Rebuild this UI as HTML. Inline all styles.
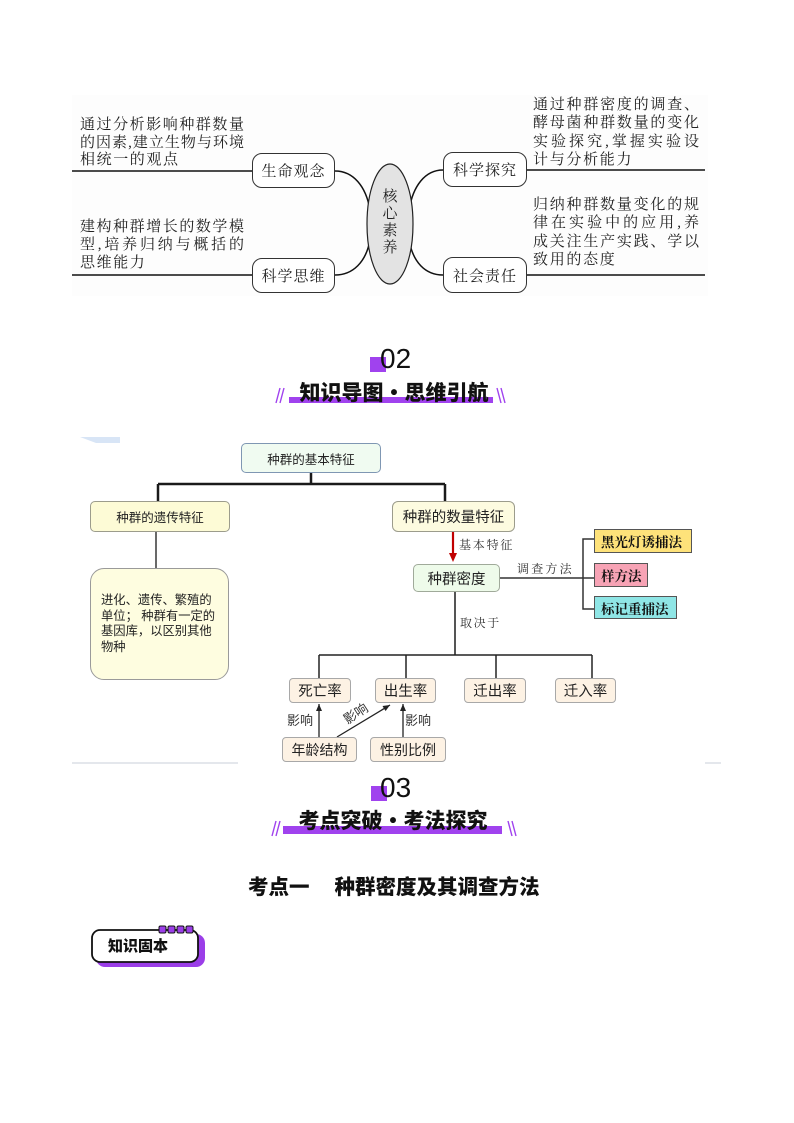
<!DOCTYPE html>
<html><head><meta charset="utf-8">
<style>
html,body{margin:0;padding:0;background:#fff;}
#pg{position:relative;width:794px;height:1123px;overflow:hidden;background:#fff;}
svg{position:absolute;left:0;top:0;}
.t{position:absolute;font-family:"Liberation Serif","Noto Serif CJK SC",serif;font-size:15px;line-height:18px;height:18px;white-space:nowrap;color:#222;}
.j{text-align:justify;text-align-last:justify;}
.bx{position:absolute;box-sizing:border-box;display:flex;align-items:center;justify-content:center;font-family:"Liberation Sans","Noto Sans CJK SC",sans-serif;color:#222;white-space:nowrap;}
.tb{background:#fff;border:1.3px solid #333;border-radius:10px;font-family:"Liberation Serif","Noto Serif CJK SC",serif;font-size:15px;letter-spacing:1px;}
.lb{position:absolute;font-family:"Liberation Serif","Noto Serif CJK SC",serif;font-size:12px;line-height:14px;color:#333;white-space:nowrap;}
.yx{position:absolute;font-family:"Liberation Sans","Noto Sans CJK SC",sans-serif;font-size:13px;line-height:14px;color:#333;white-space:nowrap;}
.rw{background:#fdf2e4;border:1px solid #a8a8a8;border-radius:4px;font-size:14.5px;}
.mt{justify-content:flex-start;padding-left:6px;font-family:"Liberation Serif","Noto Serif CJK SC",serif;font-weight:700;font-size:13.5px;border:1px solid #555;color:#111;}
.hd{position:absolute;font-family:"Noto Sans CJK SC","Liberation Sans",sans-serif;font-weight:900;font-size:21px;line-height:24px;color:#111;white-space:nowrap;}
.num{position:absolute;font-family:"Liberation Sans",sans-serif;font-size:28px;line-height:28px;color:#111;}
</style></head>
<body><div id="pg">
<svg width="794" height="1123" viewBox="0 0 794 1123">
<defs>
<marker id="ah" markerWidth="8" markerHeight="8" refX="7" refY="4" orient="auto" markerUnits="userSpaceOnUse">
<path d="M0,1 L7,4 L0,7 Z" fill="#222"/>
</marker>
</defs>
<!-- top figure background -->
<rect x="72" y="95" width="636" height="201" fill="#fdfdfd"/>
<!-- top lines -->
<g stroke="#111" stroke-width="1.5" fill="none">
<line x1="72" y1="171" x2="252" y2="171"/>
<line x1="72" y1="275" x2="252" y2="275"/>
<line x1="527" y1="170" x2="705" y2="170"/>
<line x1="527" y1="275" x2="705" y2="275"/>
<path d="M335,171 C353,171 366,186 370,210"/>
<path d="M335,275 C353,275 366,262 370,240"/>
<path d="M443,170 C425,170 413,186 409,210"/>
<path d="M443,275 C425,275 413,262 409,240"/>
</g>
<ellipse cx="390" cy="224" rx="23" ry="60" fill="#e3e3e3" stroke="#222" stroke-width="1.2"/>

<!-- 02 header -->
<rect x="370" y="357" width="16" height="15" fill="#a042ee"/>
<rect x="289" y="397" width="204" height="6" fill="#a042ee"/>
<g stroke="#a042ee" stroke-width="1.4">
<line x1="276" y1="403" x2="280" y2="388"/><line x1="280" y1="403" x2="284" y2="388"/>
<line x1="497" y1="388" x2="501" y2="403"/><line x1="501" y1="388" x2="505" y2="403"/>
</g>

<!-- mindmap -->
<polygon points="80,437 120,437 120,443 96,443" fill="#d8e5f6"/>
<g fill="none" stroke="#1a1a1a" stroke-width="2.5">
<path d="M311,473 V484"/>
<path d="M158,484 H445"/>
<path d="M158,484 V501"/>
<path d="M445,484 V501"/>
</g>
<path d="M156,532 V568" stroke="#444" stroke-width="1.6"/>
<line x1="453" y1="532" x2="453" y2="554" stroke="#c00000" stroke-width="2.2"/>
<polygon points="449,553 457,553 453,562" fill="#c00000"/>
<g fill="none" stroke="#333" stroke-width="1.5">
<path d="M500,578 H594"/>
<path d="M594,539 H583 V609 H594"/>
</g>
<path d="M455,592 V655" stroke="#555" stroke-width="2"/>
<g fill="none" stroke="#222" stroke-width="1.5">
<path d="M319,655 H592"/>
<path d="M319,655 V678"/>
<path d="M406,655 V678"/>
<path d="M496,655 V678"/>
<path d="M592,655 V678"/>
</g>
<g stroke="#222" stroke-width="1.3" fill="none">
<line x1="319" y1="737" x2="319" y2="704" marker-end="url(#ah)"/>
<line x1="337" y1="737" x2="390" y2="705" marker-end="url(#ah)"/>
<line x1="403" y1="737" x2="403" y2="704" marker-end="url(#ah)"/>
</g>
<g stroke="#c8cfd9" stroke-width="1">
<line x1="72" y1="763" x2="238" y2="763"/>
<line x1="705" y1="763" x2="721" y2="763"/>
</g>

<!-- 03 header -->
<rect x="371" y="786" width="16" height="15" fill="#a042ee"/>
<rect x="283" y="826" width="219" height="8" fill="#a042ee"/>
<g stroke="#a042ee" stroke-width="1.4">
<line x1="272" y1="836" x2="276" y2="821"/><line x1="276" y1="836" x2="280" y2="821"/>
<line x1="508" y1="821" x2="512" y2="836"/><line x1="512" y1="821" x2="516" y2="836"/>
</g>

<!-- badge -->
<rect x="96" y="934" width="109" height="33" rx="9" fill="#9b3ee8"/>
<rect x="92" y="930" width="106" height="32" rx="8" fill="#fff" stroke="#111" stroke-width="1.8"/>
<g fill="#9b3ee8" stroke="#111" stroke-width="1">
<rect x="159" y="926" width="7" height="7" rx="1.5"/>
<rect x="168" y="926" width="7" height="7" rx="1.5"/>
<rect x="177" y="926" width="7" height="7" rx="1.5"/>
<rect x="186" y="926" width="7" height="7" rx="1.5"/>
</g>
</svg>

<!-- top section texts -->
<div class="t j" style="left:80px;top:116px;width:164px;">通过分析影响种群数量</div>
<div class="t j" style="left:80px;top:134px;width:164px;">的因素,建立生物与环境</div>
<div class="t" style="left:80px;top:151px;letter-spacing:1.6px;">相统一的观点</div>
<div class="t j" style="left:80px;top:218px;width:164px;">建构种群增长的数学模</div>
<div class="t j" style="left:80px;top:236px;width:164px;">型,培养归纳与概括的</div>
<div class="t" style="left:80px;top:254px;letter-spacing:1.6px;">思维能力</div>

<div class="t j" style="left:533px;top:96px;width:166px;">通过种群密度的调查、</div>
<div class="t j" style="left:533px;top:114px;width:166px;">酵母菌种群数量的变化</div>
<div class="t j" style="left:533px;top:133px;width:166px;">实验探究,掌握实验设</div>
<div class="t" style="left:533px;top:151px;letter-spacing:1.7px;">计与分析能力</div>
<div class="t j" style="left:533px;top:196px;width:166px;">归纳种群数量变化的规</div>
<div class="t j" style="left:533px;top:214px;width:166px;">律在实验中的应用,养</div>
<div class="t j" style="left:533px;top:233px;width:166px;">成关注生产实践、学以</div>
<div class="t" style="left:533px;top:251px;letter-spacing:1.7px;">致用的态度</div>

<div class="bx tb" style="left:252px;top:153px;width:83px;height:35px;">生命观念</div>
<div class="bx tb" style="left:252px;top:258px;width:83px;height:35px;">科学思维</div>
<div class="bx tb" style="left:443px;top:152px;width:84px;height:35px;">科学探究</div>
<div class="bx tb" style="left:443px;top:257px;width:84px;height:36px;">社会责任</div>
<div class="t" style="left:382px;top:189px;width:16px;height:auto;line-height:17px;white-space:normal;text-align:center;">核<br>心<br>素<br>养</div>

<!-- 02 header text -->
<div class="num" style="left:380px;top:345px;">02</div>
<div class="hd" style="left:283px;top:380px;width:222px;text-align:center;">知识导图•思维引航</div>

<!-- mindmap boxes -->
<div class="bx" style="left:241px;top:443px;width:140px;height:30px;background:#f0fbf1;border:1px solid #7f97b3;border-radius:5px;font-size:12.5px;">种群的基本特征</div>
<div class="bx" style="left:90px;top:501px;width:140px;height:31px;background:#fdfbd6;border:1px solid #9c9c8c;border-radius:5px;font-size:12.5px;">种群的遗传特征</div>
<div class="bx" style="left:90px;top:568px;width:139px;height:112px;background:#fefde0;border:1px solid #9a9a9a;border-radius:14px;justify-content:flex-start;padding-left:10px;font-size:12.3px;line-height:15.5px;white-space:normal;">进化、遗传、繁殖的<br>单位； 种群有一定的<br>基因库，以区别其他<br>物种</div>
<div class="bx" style="left:392px;top:501px;width:123px;height:31px;background:#fdfbe0;border:1px solid #9c9c8c;border-radius:6px;font-size:14.5px;">种群的数量特征</div>
<div class="bx" style="left:413px;top:564px;width:87px;height:28px;background:#eefbea;border:1px solid #a0aa9a;border-radius:5px;font-size:14.5px;">种群密度</div>
<div class="bx mt" style="left:594px;top:529px;width:98px;height:24px;background:#fee27a;">黑光灯诱捕法</div>
<div class="bx mt" style="left:594px;top:563px;width:54px;height:24px;background:#f7a3b5;">样方法</div>
<div class="bx mt" style="left:594px;top:596px;width:83px;height:23px;background:#8fe6e6;">标记重捕法</div>

<div class="lb" style="left:459px;top:538px;letter-spacing:1.8px;">基本特征</div>
<div class="lb" style="left:517px;top:562px;letter-spacing:2.2px;">调查方法</div>
<div class="lb" style="left:460px;top:616px;letter-spacing:1.6px;">取决于</div>

<div class="bx rw" style="left:289px;top:678px;width:62px;height:25px;">死亡率</div>
<div class="bx rw" style="left:375px;top:678px;width:61px;height:25px;">出生率</div>
<div class="bx rw" style="left:464px;top:678px;width:62px;height:25px;">迁出率</div>
<div class="bx rw" style="left:555px;top:678px;width:61px;height:25px;">迁入率</div>
<div class="bx rw" style="left:282px;top:737px;width:75px;height:25px;font-size:14px;">年龄结构</div>
<div class="bx rw" style="left:370px;top:737px;width:76px;height:25px;font-size:14px;">性别比例</div>

<div class="yx" style="left:287px;top:714px;">影响</div>
<div class="yx" style="left:405px;top:714px;">影响</div>
<div class="yx" style="left:343px;top:707px;transform:rotate(-33deg);transform-origin:center;">影响</div>

<!-- 03 header text -->
<div class="num" style="left:380px;top:774px;">03</div>
<div class="hd" style="left:282px;top:808px;width:222px;text-align:center;">考点突破•考法探究</div>

<div class="hd" style="left:248px;top:873px;font-size:20.5px;">考点一<span style="margin-left:25px;">种群密度及其调查方法</span></div>

<div class="hd" style="left:108px;top:936px;font-size:15px;line-height:20px;">知识固本</div>
</div></body></html>
